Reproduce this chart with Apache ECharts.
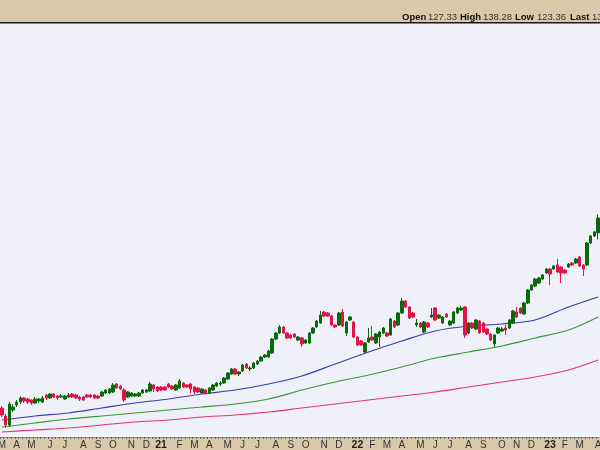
<!DOCTYPE html>
<html><head><meta charset="utf-8">
<script src="https://cdn.jsdelivr.net/npm/echarts/dist/echarts.min.js"></script>
<style>html,body{margin:0;padding:0;background:#d9c9aa}#c{width:600px;height:450px}</style>
</head><body><div id="c"></div>
<script>
// first weekly bar (week ending Friday)
const firstWeekEnd = '2020-03-06';
const weekCount = 162;
const monthLetters = ['J','F','M','A','M','J','J','A','S','O','N','D'];

const openP = [22.2,17.4,12.0,21.0,24.0,25.8,28.2,27.6,27.0,25.2,
26.4,25.8,30.0,28.2,30.6,29.4,28.8,27.6,28.8,30.6,
30.0,28.8,28.8,30.0,30.0,30.0,29.4,29.4,31.2,31.2,
31.8,36.6,35.4,33.0,28.8,29.4,29.4,29.4,31.2,31.8,
32.4,36.0,34.8,34.8,34.8,36.6,35.4,33.0,34.2,37.2,
36.0,36.6,34.8,34.2,31.2,33.0,31.2,33.0,35.4,36.6,
37.2,39.6,42.6,45.6,42.6,44.4,48.6,45.6,46.2,48.6,
50.4,52.8,52.8,55.2,63.6,67.2,70.8,67.2,66.0,66.6,
63.0,64.2,61.2,61.2,67.2,70.8,73.2,79.8,79.2,77.4,
72.0,72.0,79.8,67.2,75.0,73.8,64.8,62.4,55.8,61.8,
64.8,61.2,64.8,67.2,67.2,66.0,74.4,72.0,79.2,86.4,
82.8,79.2,72.0,73.2,67.8,73.2,76.8,82.2,76.2,73.2,
78.6,72.0,73.2,79.2,81.0,82.8,67.2,73.2,69.6,74.4,
73.2,69.6,66.6,60.6,67.2,68.4,70.2,70.2,73.2,79.8,
82.2,78.6,85.2,93.0,95.4,97.2,99.6,103.2,105.6,105.6,
108.0,106.8,105.0,106.8,109.2,109.2,112.8,108.0,108.0,121.2,
125.4,127.33];
const closeP = [18.0,12.0,24.6,22.8,25.8,28.2,26.4,25.8,25.2,27.6,
27.6,28.2,28.2,30.6,28.8,28.2,29.4,29.4,30.0,28.8,
28.2,27.6,27.0,28.8,28.8,28.2,28.2,31.8,33.0,33.6,
36.0,34.2,33.6,27.0,31.8,31.2,30.6,31.2,33.0,33.0,
36.6,33.6,32.4,33.0,33.0,34.8,33.6,36.0,38.4,34.8,
34.8,33.6,31.8,31.8,33.6,31.2,34.2,36.0,37.2,37.2,
40.2,43.2,45.6,42.6,43.8,48.0,46.2,46.2,49.2,50.4,
52.8,54.0,56.4,63.6,67.2,70.8,67.2,64.2,64.2,64.8,
64.8,60.6,63.0,67.2,70.2,74.4,78.0,77.4,77.4,72.0,
70.8,79.2,71.4,73.8,76.8,64.8,60.0,60.0,61.2,64.2,
63.0,66.6,67.8,70.2,65.4,75.6,70.8,79.2,86.4,82.8,
76.2,76.8,73.2,70.8,73.8,70.8,78.0,75.0,78.0,76.8,
76.8,74.4,79.8,82.2,82.2,66.0,73.2,70.2,75.0,67.2,
67.8,66.6,63.0,66.0,70.2,69.6,69.0,75.0,80.4,76.8,
79.2,85.2,93.0,96.0,99.6,100.2,102.0,105.6,102.6,107.4,
103.8,103.2,103.2,108.6,108.0,111.6,107.4,105.6,121.2,125.4,
127.8,136.20];
const highP = [23.4,18.6,25.8,24.6,27.0,29.4,28.8,28.2,27.6,28.8,
28.2,29.4,30.6,31.2,31.2,30.0,30.6,30.0,31.2,31.2,
30.6,29.4,29.4,30.6,30.6,30.6,30.0,32.4,33.6,34.2,
37.2,37.2,36.0,34.2,32.4,31.8,31.2,31.8,33.6,33.6,
37.8,36.6,35.4,35.4,35.4,37.2,36.0,36.6,39.6,37.8,
36.6,37.2,35.4,34.8,34.2,33.6,34.8,36.6,37.8,38.4,
40.8,43.8,46.2,46.2,44.4,48.6,49.2,47.4,49.8,51.0,
53.4,54.6,57.0,64.2,67.8,72.0,71.4,67.8,66.6,67.2,
65.4,64.8,63.6,67.8,70.8,75.0,80.4,80.4,79.8,78.0,
72.6,79.8,81.6,74.4,77.4,74.4,65.4,63.0,61.8,70.2,
71.4,67.2,68.4,70.8,67.8,76.2,75.0,79.8,88.2,87.0,
83.4,79.8,75.6,73.8,74.4,73.8,82.2,82.8,78.6,77.4,
79.2,75.0,80.4,82.8,83.4,83.4,73.8,73.8,75.6,75.0,
73.8,70.2,67.2,66.6,70.8,70.8,72.0,75.6,81.0,82.8,
82.8,85.8,93.6,96.6,100.2,100.8,102.6,106.2,106.2,108.0,
111.6,107.4,105.6,109.2,109.8,112.2,113.4,108.6,121.8,126.0,
128.4,138.28];
const lowP = [16.8,10.2,10.8,19.8,22.8,24.6,25.2,24.6,24.0,24.6,
25.2,25.2,27.0,27.6,28.2,27.0,28.2,27.0,28.2,28.2,
27.6,26.4,26.4,28.2,28.2,27.6,27.6,28.8,30.6,30.6,
31.2,33.6,33.0,25.8,28.2,28.8,28.8,28.8,30.6,31.2,
31.8,31.8,31.8,32.4,32.4,34.2,33.0,32.4,33.6,34.2,
34.2,31.2,30.6,31.2,30.6,30.6,30.6,32.4,34.8,35.4,
36.6,39.0,42.0,42.0,41.4,43.8,45.6,44.4,45.6,48.0,
49.8,52.2,52.2,54.6,63.0,66.6,66.6,63.6,63.6,64.2,
62.4,58.8,60.6,60.6,66.6,70.2,72.6,76.8,76.8,71.4,
70.2,71.4,70.8,65.4,74.4,64.2,59.4,59.4,54.6,61.2,
62.4,60.6,58.8,66.6,64.8,65.4,70.2,71.4,78.6,82.2,
75.6,76.2,70.8,70.2,67.2,70.2,76.2,74.4,75.6,72.6,
76.2,71.4,72.6,78.6,80.4,64.2,66.6,69.6,69.0,66.6,
67.2,66.0,62.4,58.8,66.6,67.8,66.0,69.6,72.6,76.2,
78.6,78.0,84.6,92.4,94.8,96.6,99.0,102.6,96.0,105.0,
103.2,97.2,102.6,106.2,107.4,108.6,106.8,101.4,107.4,120.6,
124.8,123.36];

// moving averages read at these bar indexes
const maIdx   = [0,9,18,27,36,45,54,63,72,81,90,99,108,117,126,135,144,153,161];
const maBlue  = [15.0,17.4,19.2,22.2,25.2,27.6,30.6,33.0,36.6,41.4,48.6,55.8,62.4,68.4,71.4,72.6,75.0,82.8,88.8];
const maGreen = [10.8,13.2,15.6,17.4,19.2,21.0,22.8,24.6,27.6,33.0,37.8,42.0,46.8,52.2,55.8,59.4,64.2,69.0,76.8];
const maRed   = [7.8,9.0,10.2,12.0,13.8,15.0,16.8,18.0,19.8,22.2,24.6,27.0,29.4,31.8,34.8,37.8,40.8,45.0,51.0];

const header = {Open:'127.33', High:'138.28', Low:'123.36', Last:'136.20'};

// build weekly categories
const categories = [];
const t0 = Date.parse(firstWeekEnd + 'T00:00:00Z');
for (let i = 0; i < weekCount; i++) {
  const d = new Date(t0 + i * 7 * 86400000);
  categories.push(d.toISOString().slice(0,10));
}
const candles = categories.map((c,i) => [openP[i], closeP[i], lowP[i], highP[i]]);
function maSeries(vals){
  const arr = new Array(weekCount).fill(null);
  maIdx.forEach((k,j)=>{ arr[k] = vals[j]; });
  return arr;
}
function isMonthWeek(v){ return new Date(v + 'T00:00:00Z').getUTCDate() <= 7; }

const chart = echarts.init(document.getElementById('c'), null, {renderer:'canvas'});
const hdrFont = {fontFamily:'Liberation Sans, Arial, sans-serif', fontSize:9.5, fill:'#111'};
function hText(x, txt, bold){
  return {type:'text', left:x, top:12, silent:true,
    style:Object.assign({}, hdrFont, {text:txt, fontWeight: bold ? 'bold' : 'normal', fill: bold ? '#111' : '#333'})};
}
chart.setOption({
  animation:false,
  backgroundColor:'#d9c9aa',
  grid:{left:0,right:0,top:23,bottom:13,show:true,backgroundColor:'#f0f0f8',borderWidth:0,containLabel:false,outerBoundsMode:'none'},
  xAxis:{
    type:'category', data:categories, boundaryGap:true,
    axisLine:{show:true,lineStyle:{color:'#8a8a8a',width:1}},
    axisTick:{show:true,interval:0,length:2,lineStyle:{color:'#666'}},
    axisLabel:{
      interval:(idx,v)=>isMonthWeek(v),
      margin:3, fontSize:10, fontFamily:'Liberation Sans, Arial, sans-serif', color:'#333',
      formatter:(v)=>{ const d=new Date(v+'T00:00:00Z'); const m=d.getUTCMonth();
        return m===0 ? '{y|' + String(d.getUTCFullYear()).slice(2) + '}' : monthLetters[m]; },
      rich:{y:{fontWeight:'bold',fontSize:10.5,color:'#222',fontFamily:'Liberation Sans, Arial, sans-serif'}}
    },
    splitLine:{show:false}
  },
  yAxis:{type:'value', min:4.8, max:253.2, show:false, splitLine:{show:false}},
  series:[
    {type:'line', data:maSeries(maRed), connectNulls:true, symbol:'none', smooth:0.3,
      lineStyle:{color:'#e0386a',width:1.2}, z:2},
    {type:'line', data:maSeries(maGreen), connectNulls:true, symbol:'none', smooth:0.3,
      lineStyle:{color:'#3a963a',width:1.2}, z:2},
    {type:'line', data:maSeries(maBlue), connectNulls:true, symbol:'none', smooth:0.3,
      lineStyle:{color:'#3c3cae',width:1.2}, z:2},
    {type:'candlestick', data:candles, barWidth:3, z:3,
      itemStyle:{color:'#0a6a0a', color0:'#e0144a', borderColor:'#0a6a0a', borderColor0:'#e0144a', borderWidth:1}}
  ],
  graphic:[
    {type:'rect', left:0, top:0, shape:{width:600,height:22}, style:{fill:'#d9c9aa'}, silent:true, z:10},
    {type:'rect', left:0, top:22, shape:{width:600,height:1.5}, style:{fill:'#1a1a1a'}, silent:true, z:10},
    Object.assign(hText(402,'Open',true),{z:11}),
    Object.assign(hText(428,header.Open,false),{z:11}),
    Object.assign(hText(460,'High',true),{z:11}),
    Object.assign(hText(483,header.High,false),{z:11}),
    Object.assign(hText(515,'Low',true),{z:11}),
    Object.assign(hText(537,header.Low,false),{z:11}),
    Object.assign(hText(570,'Last',true),{z:11}),
    Object.assign(hText(592,header.Last,false),{z:11})
  ]
});
</script></body></html>
